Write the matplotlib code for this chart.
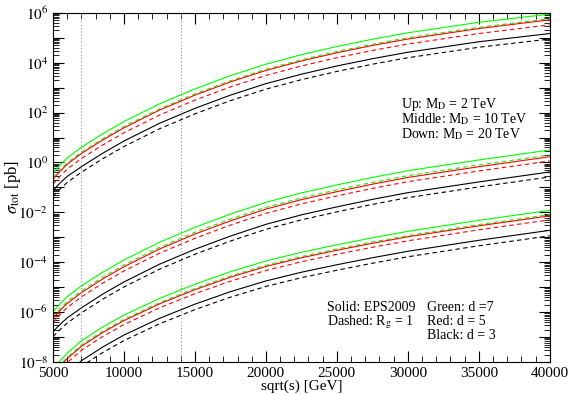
import numpy as np
import matplotlib
matplotlib.use('Agg')
import matplotlib.pyplot as plt
from matplotlib.ticker import LogLocator, MultipleLocator, FuncFormatter

# sqrt(s) in GeV
sqrt_s = [5000, 5500, 6000, 7000, 8500, 10000, 12500, 15000, 17500, 20000,
          22500, 25000, 27500, 30000, 35000, 40000]

# log10(sigma_tot / pb)
# Up: M_D = 2 TeV
up_green = [-0.42, -0.10, 0.18, 0.61, 1.15, 1.64, 2.35, 2.95, 3.48, 3.94, 4.32, 4.65, 4.94, 5.20, 5.62, 5.95]
up_green_r = [-0.62, -0.30, -0.02, 0.41, 0.95, 1.44, 2.15, 2.75, 3.28, 3.74, 4.12, 4.45, 4.74, 5.00, 5.42, 5.77]
up_red = [-0.67, -0.35, -0.07, 0.36, 0.90, 1.39, 2.10, 2.70, 3.23, 3.69, 4.07, 4.40, 4.69, 4.95, 5.37, 5.72]
up_red_r = [-0.87, -0.55, -0.27, 0.16, 0.70, 1.19, 1.90, 2.50, 3.03, 3.49, 3.87, 4.20, 4.49, 4.75, 5.17, 5.52]
up_black = [-1.12, -0.82, -0.56, -0.17, 0.37, 0.86, 1.57, 2.17, 2.70, 3.16, 3.54, 3.87, 4.16, 4.42, 4.84, 5.17]
up_black_r = [-1.35, -1.06, -0.80, -0.39, 0.15, 0.64, 1.35, 1.95, 2.48, 2.94, 3.32, 3.65, 3.94, 4.20, 4.62, 4.95]
# Middle: M_D = 10 TeV
mid_green = [-5.98, -5.66, -5.38, -4.95, -4.40, -3.91, -3.20, -2.60, -2.07, -1.60, -1.22, -0.90, -0.60, -0.33, 0.10, 0.50]
mid_green_r = [-6.18, -5.86, -5.58, -5.15, -4.60, -4.11, -3.40, -2.80, -2.27, -1.80, -1.42, -1.10, -0.80, -0.53, -0.10, 0.30]
mid_red = [-6.25, -5.93, -5.65, -5.22, -4.67, -4.18, -3.47, -2.87, -2.34, -1.87, -1.49, -1.17, -0.87, -0.60, -0.17, 0.23]
mid_red_r = [-6.42, -6.10, -5.82, -5.39, -4.84, -4.35, -3.64, -3.04, -2.51, -2.04, -1.66, -1.34, -1.04, -0.77, -0.34, 0.06]
mid_black = [-6.78, -6.49, -6.23, -5.83, -5.28, -4.79, -4.08, -3.48, -2.95, -2.48, -2.10, -1.78, -1.48, -1.21, -0.78, -0.38]
mid_black_r = [-6.98, -6.70, -6.44, -6.03, -5.48, -4.99, -4.28, -3.68, -3.15, -2.68, -2.30, -1.98, -1.68, -1.41, -0.98, -0.58]
# Down: M_D = 20 TeV
down_green = [-8.30, -7.95, -7.65, -7.15, -6.60, -6.12, -5.45, -4.88, -4.38, -3.95, -3.60, -3.30, -3.02, -2.76, -2.32, -1.92]
down_green_r = [-8.47, -8.12, -7.82, -7.32, -6.77, -6.29, -5.62, -5.05, -4.55, -4.12, -3.77, -3.47, -3.19, -2.93, -2.49, -2.09]
down_red = [-8.52, -8.17, -7.87, -7.37, -6.82, -6.34, -5.67, -5.10, -4.60, -4.17, -3.82, -3.52, -3.24, -2.98, -2.54, -2.14]
down_red_r = [-8.68, -8.33, -8.03, -7.53, -6.98, -6.50, -5.83, -5.26, -4.76, -4.33, -3.98, -3.68, -3.40, -3.14, -2.70, -2.30]
down_black = [-9.10, -8.75, -8.45, -7.95, -7.40, -6.92, -6.25, -5.68, -5.18, -4.75, -4.40, -4.10, -3.82, -3.56, -3.12, -2.72]
down_black_r = [-9.32, -8.97, -8.67, -8.17, -7.62, -7.14, -6.47, -5.90, -5.40, -4.97, -4.62, -4.32, -4.04, -3.78, -3.34, -2.94]

LHC_LINES = [7000, 14000]

plt.rcParams['font.family'] = ['Liberation Serif', 'DejaVu Serif']
plt.rcParams['mathtext.fontset'] = 'stix'
plt.rcParams['font.size'] = 11

fig = plt.figure(figsize=(5.71, 3.95), dpi=100)
ax = fig.add_axes([0.0928, 0.0835, 0.870, 0.884])

groups = [
    (up_green, up_green_r, up_red, up_red_r, up_black, up_black_r),
    (mid_green, mid_green_r, mid_red, mid_red_r, mid_black, mid_black_r),
    (down_green, down_green_r, down_red, down_red_r, down_black, down_black_r),
]
colors = ['#00ff00', '#ff0000', '#000000']
for g in groups:
    for i in range(3):
        ax.plot(sqrt_s, 10 ** np.array(g[2 * i]), color=colors[i], lw=0.8, ls='-')
        ax.plot(sqrt_s, 10 ** np.array(g[2 * i + 1]), color=colors[i], lw=0.8, ls=(0, (4, 3)))

for xv in LHC_LINES:
    ax.axvline(xv, color='#909090', lw=0.8, ls=(0, (1, 2)))

ax.set_yscale('log')
ax.set_xlim(5000, 40000)
ax.set_ylim(1e-8, 1e6)

ax.xaxis.set_major_locator(MultipleLocator(5000))
ax.xaxis.set_minor_locator(MultipleLocator(1000))
ax.yaxis.set_major_locator(LogLocator(base=10, numticks=20))
ax.yaxis.set_minor_locator(LogLocator(base=10, subs=np.arange(2, 10), numticks=20))


def ylab(v, pos):
    e = int(round(np.log10(v)))
    if e % 2:
        return ''
    return r'$10^{%d}$' % e


ax.yaxis.set_major_formatter(FuncFormatter(ylab))
ax.tick_params(which='both', direction='in', top=True, right=True, labelsize=11)
ax.tick_params(which='major', length=8, width=0.8)
ax.tick_params(which='minor', length=4, width=0.6)
for s in ax.spines.values():
    s.set_linewidth(0.8)

ax.set_xlabel('sqrt(s) [GeV]', fontsize=11, labelpad=0)
ax.set_ylabel(r'$\sigma_{\rm tot}$ [pb]', fontsize=12)
ax.yaxis.set_label_coords(-0.060, 0.5)

ax.text(0.70, 0.727, r'Up: M$_{\rm D}$ = 2 TeV', transform=ax.transAxes, fontsize=10)
ax.text(0.70, 0.684, r'Middle: M$_{\rm D}$ = 10 TeV', transform=ax.transAxes, fontsize=10)
ax.text(0.70, 0.641, r'Down: M$_{\rm D}$ = 20 TeV', transform=ax.transAxes, fontsize=10)

ax.text(0.551, 0.146, 'Solid: EPS2009', transform=ax.transAxes, fontsize=10)
ax.text(0.551, 0.106, r'Dashed: R$_{\rm g}$ = 1', transform=ax.transAxes, fontsize=10)
ax.text(0.7525, 0.146, 'Green: d =7', transform=ax.transAxes, fontsize=10)
ax.text(0.7525, 0.106, 'Red: d = 5', transform=ax.transAxes, fontsize=10)
ax.text(0.7525, 0.066, 'Black: d = 3', transform=ax.transAxes, fontsize=10)

fig.savefig('out.png', dpi=100)
